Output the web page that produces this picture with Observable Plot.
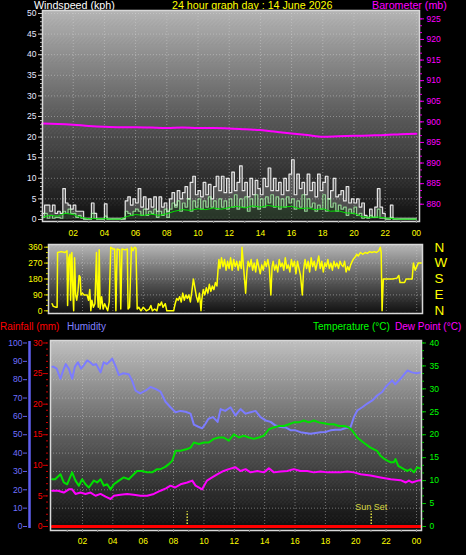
<!DOCTYPE html>
<html><head><meta charset="utf-8">
<script src="https://cdn.jsdelivr.net/npm/d3@7"></script>
<script src="https://cdn.jsdelivr.net/npm/@observablehq/plot@0.6"></script>
<style>
html,body{margin:0;padding:0;background:#000;}
#wrap{position:relative;width:466px;height:555px;background:#000;overflow:hidden;font-family:"Liberation Sans",Arial,sans-serif;}
.lbl{position:absolute;white-space:nowrap;font-size:10.7px;line-height:12px;}
.lb2{position:absolute;white-space:nowrap;font-size:10px;line-height:12px;}
.chart{position:absolute;left:0;}
</style></head><body>
<div id="wrap">
  <div class="lbl" style="left:34px;top:-1px;color:#ffffff">Windspeed (kph)</div>
  <div class="lbl" style="left:172px;top:-1px;color:#ffff00">24 hour graph day : 14 June 2026</div>
  <div class="lbl" style="left:372px;top:-1px;color:#ff00ff">Barometer (mb)</div>
  <div class="lb2" style="left:0px;top:321px;color:#ff0000">Rainfall (mm)</div>
  <div class="lb2" style="left:67px;top:321px;color:#8080ff">Humidity</div>
  <div class="lb2" style="left:313px;top:321px;color:#00ff00">Temperature (°C)</div>
  <div class="lb2" style="left:395px;top:321px;color:#ff00ff">Dew Point (°C)</div>
  <div id="c1" class="chart" style="top:0px"></div>
  <div id="c2" class="chart" style="top:240px"></div>
  <div id="c3" class="chart" style="top:335px"></div>
</div>
<script>
// ---------------- DATA ----------------
// time labels
const hourTicks = [2,4,6,8,10,12,14,16,18,20,22,24];
const hourMinor = [1,2,3,4,5,6,7,8,9,10,11,12,13,14,15,16,17,18,19,20,21,22,23,24];
// wind axis / barometer axis
const windTicks = [0,5,10,15,20,25,30,35,40,45,50];
const baroTicks = [880,885,890,895,900,905,910,915,920,925];
const BARO_BASE = 876.3;
// wind gust (kph), one value every 10 minutes from 00:00
const gustKph = [
 1.5,3.5,3.5,2,3.5,1.5,
 2,1.5,7.5,4,3.5,2.5,
 3.5,2,2,2,0.3,0.3,
 0.3,4,1.5,0.3,0.3,0.3,
 3.8,0.3,0.3,0.3,0.3,0.3,
 0.3,0.3,4.5,5.5,3.5,5,
 4,7.5,3,5.5,2.5,5,
 3,5.5,2,5.5,3,4,
 2,5,6.5,3.5,7,5,
 6.5,8,5,9,10.5,6,
 7,5.5,9,6,8.5,5,
 8,10.5,7,10.5,6.5,10,
 6.5,11.5,7,9,13,7,
 9,5.5,10,6,9.5,7.5,
 6,10,8,12.5,7,10,
 7,9,6,10,7,11,
 14.5,6,11,7.5,9,6,
 11,7,9,5.5,11,7,
 9,10.5,5,7,10,5.5,
 6,7,4.5,8,4,5,
 4,5,3,4,1,0.5,
 2.5,0.5,3,7.5,3,1.5,
 0.3,0.3,3.5,0.3,0.3,0.3,
 0.3,0.3,0.3,0.3,0.3,0.3,
 0.3];
// average wind (kph), every 10 minutes
const avgKph = [
 0.5,1.5,0.3,1,0.3,0.5,
 0.5,0.3,2,1.5,2.5,1.5,
 1.5,0.5,1,0.3,0,0,
 0,1.5,0.3,0,0,0,
 0.8,0,0,0,0,0,
 0,0,2,1.5,1,2,
 2.5,2,1,2.5,1,2,
 1.5,2.5,0.5,2,1,2.5,
 0.5,2.5,4,3,4.5,2,
 4,3,5,2,4.5,3,
 5,2.5,4.5,3,5.5,3,
 4.5,2.5,5,3,4.5,2.5,
 5,3,6,2.5,5,3,
 5.5,2,5,3,6,2.5,
 5,3,5.5,4,6,3,
 5.5,2.5,5,3,5.5,4,
 5,2.5,4.5,3,6,2,
 5,3,4,2,3.5,2.5,
 6,2,5,3,4,2,
 3.5,2.5,3,1,2.5,1.5,
 3,1,1.5,0.3,0.5,0.3,
 1,0.5,0.5,2.5,0.3,0.3,
 0,0,0.5,0,0,0,
 0,0,0,0,0,0,
 0];
// smoothed average wind (kph), every 30 minutes
const avgSmoothKph = [0.5,1.0,0.8,1.5,1.2,0.5,0.2,0.2,0.2,0.1,0.1,0.8,1.2,1.0,1.3,1.0,1.4,2.0,2.4,2.2,2.6,2.4,2.8,2.5,2.9,3.2,2.8,3.3,3.0,3.4,3.1,3.0,3.2,2.6,2.8,2.4,2.6,2.0,2.1,1.6,1.5,0.7,0.5,0.6,0.4,0.2,0.1,0.1,0.1];
// barometer (mb), hourly
const baroMb = [899.6,899.5,899.3,899.0,898.8,898.7,898.7,898.6,898.5,898.6,898.5,898.5,898.4,898.2,898.0,897.6,897.2,896.8,896.4,896.5,896.6,896.7,896.8,897.0,897.1];

// wind direction [hour, degrees]
const dirTicks = [0,90,180,270,360];
const dirLetters = ["N","E","S","W","N"];
const dirSamples = [[0.00,40],[0.08,25],[0.25,20],[0.33,20],[0.36,330],[0.6,335],[0.85,330],[0.98,340],[1.02,30],[1.1,300],[1.18,320],[1.22,60],[1.3,330],[1.38,80],[1.42,0],[1.48,300],[1.55,90],[1.62,60],[1.7,110],[1.78,200],[1.85,190],[1.9,90],[2.0,100],[2.1,90],[2.3,90],[2.4,60],[2.48,120],[2.55,0],[2.62,60],[2.72,20],[2.82,40],[2.92,330],[2.98,100],[3.04,20],[3.1,345],[3.16,10],[3.26,80],[3.36,10],[3.46,40],[3.56,20],[3.66,0],[3.76,50],[3.86,360],[4.0,350],[4.12,350],[4.2,0],[4.28,350],[4.45,345],[4.52,10],[4.6,350],[4.8,345],[4.95,350],[5.0,10],[5.1,20],[5.22,360],[5.32,340],[5.42,360],[5.52,355],[5.6,10],[5.7,20],[5.85,0],[6.0,20],[6.2,0],[6.4,10],[6.5,30],[6.6,0],[6.75,10],[6.9,0],[7.0,40],[7.1,30],[7.2,50],[7.3,20],[7.45,40],[7.55,0],[7.7,0],[8.0,0],[8.1,40],[8.2,70],[8.3,60],[8.4,80],[8.5,50],[8.6,100],[8.7,60],[8.8,90],[8.9,70],[9.0,90],[9.1,50],[9.2,110],[9.3,180],[9.4,130],[9.5,80],[9.6,50],[9.7,100],[9.8,0],[9.85,60],[9.95,120],[10.05,90],[10.15,130],[10.25,100],[10.35,150],[10.45,110],[10.55,140],[10.65,120],[10.75,160],[10.85,140],[10.92,230],[10.98,290],[11.05,240],[11.15,300],[11.25,250],[11.35,290],[11.45,230],[11.55,280],[11.65,240],[11.75,300],[11.85,230],[11.95,290],[12.05,250],[12.15,280],[12.25,230],[12.35,280],[12.45,240],[12.5,360],[12.6,250],[12.74,100],[12.82,220],[12.9,280],[13.0,250],[13.1,290],[13.2,230],[13.3,270],[13.4,220],[13.5,290],[13.6,250],[13.7,210],[13.8,260],[13.9,230],[14.0,280],[14.1,250],[14.2,290],[14.3,240],[14.4,90],[14.48,250],[14.55,280],[14.65,230],[14.75,260],[14.85,220],[14.95,290],[15.05,250],[15.15,270],[15.25,230],[15.35,300],[15.45,240],[15.55,260],[15.65,220],[15.75,290],[15.85,250],[15.95,280],[16.05,210],[16.15,280],[16.25,240],[16.35,200],[16.47,90],[16.55,230],[16.65,290],[16.75,240],[16.85,280],[16.95,220],[17.05,300],[17.15,250],[17.25,280],[17.35,230],[17.45,270],[17.55,310],[17.65,240],[17.75,280],[17.85,220],[17.95,270],[18.05,250],[18.15,290],[18.25,240],[18.35,270],[18.45,230],[18.55,280],[18.65,250],[18.75,270],[18.85,240],[18.95,280],[19.05,260],[19.15,250],[19.25,280],[19.35,220],[19.45,250],[19.55,230],[19.65,260],[19.75,280],[19.85,295],[19.95,305],[20.05,320],[20.15,310],[20.3,330],[20.45,320],[20.6,330],[20.75,325],[20.9,335],[21.05,330],[21.2,335],[21.35,330],[21.5,340],[21.6,360],[21.66,330],[21.72,0],[21.8,180],[22.0,180],[22.4,180],[22.7,185],[22.82,200],[22.9,160],[23.2,160],[23.3,180],[23.7,180],[23.78,270],[23.9,230],[24.0,250],[24.1,270],[24.3,270]];

// bottom panel axes
const humTicks = [0,10,20,30,40,50,60,70,80,90,100];
const rainTicks = [0,5,10,15,20,25,30];
const tempTicks = [0,5,10,15,20,25,30,35,40];
// humidity [hour, %]
const humSamples = [[0.0,87],[0.11,87],[0.3,86],[0.55,80.5],[0.75,85.5],[0.9,88.5],[1.1,86],[1.32,80.5],[1.5,87],[1.7,89.5],[1.9,86],[2.1,88],[2.31,90.5],[2.5,89.5],[2.7,88],[2.9,88.5],[3.19,84],[3.4,89.5],[3.6,88.5],[3.8,90],[3.96,91.5],[4.2,87],[4.4,82.5],[4.7,83.5],[5.05,83],[5.27,79.5],[5.5,74],[5.8,72.5],[6.15,74],[6.48,76],[6.81,75],[7.14,73.5],[7.47,68],[7.8,65],[8.13,62.3],[8.46,63],[8.79,62.5],[9.12,61.5],[9.34,55.5],[9.6,54.5],[9.88,53.5],[10.1,56],[10.3,58.7],[10.6,59.6],[10.9,57],[11.1,64],[11.4,63],[11.75,65],[12.08,60.5],[12.41,64],[12.74,61.5],[13.07,62.3],[13.4,63],[13.73,59.6],[14.06,57.8],[14.39,57],[14.72,55],[15.05,54.2],[15.38,54],[15.7,52.5],[16.03,52.4],[16.36,51.4],[16.69,51],[17.02,50.5],[17.35,51],[17.68,51.4],[18.0,51.5],[18.34,52.4],[18.67,52.7],[19.0,52.7],[19.33,53.6],[19.66,54.2],[19.88,59.6],[20.1,63.2],[20.43,65],[20.76,67],[21.09,68.7],[21.41,71.4],[21.74,73.3],[21.96,76],[22.2,78],[22.4,79.6],[22.6,77.5],[22.95,80.5],[23.2,83],[23.4,85],[23.7,84],[24.0,83.5],[24.3,84]];
// temperature [hour, °C]
const tempSamples = [[0.0,10.3],[0.2,10.3],[0.55,11.4],[0.77,9.6],[0.99,9.2],[1.32,11.8],[1.54,10],[1.76,8.9],[1.98,10.3],[2.2,9.2],[2.42,8.5],[2.75,10],[2.97,9.6],[3.19,10.3],[3.41,8.9],[3.63,9.2],[3.85,8.1],[4.07,9.2],[4.4,10],[4.72,10.7],[5.05,10.3],[5.38,11.4],[5.6,12.1],[5.93,12.1],[6.26,11.8],[6.59,11.8],[6.92,12.5],[7.14,12.5],[7.45,13],[7.69,13.6],[7.91,14.3],[8.13,16.5],[8.46,16.5],[8.9,16.9],[9.12,17.2],[9.34,18.3],[9.67,18],[10.0,18.3],[10.32,18.3],[10.65,19.1],[10.98,19.4],[11.3,19.4],[11.64,18.7],[11.97,20.1],[12.3,19.4],[12.63,19.8],[12.96,19.4],[13.29,19.1],[13.62,19.4],[13.95,19.8],[14.28,21.2],[14.61,21.6],[14.94,21.9],[15.27,21.9],[15.6,22.3],[15.93,22.7],[16.25,22.7],[16.58,23.1],[16.91,22.7],[17.24,23.1],[17.57,22.7],[17.9,22.5],[18.23,22.3],[18.56,22.3],[18.89,21.9],[19.22,21.9],[19.55,21.6],[19.77,20.9],[20.1,19.4],[20.5,18.3],[20.97,17.2],[21.4,16.5],[21.63,15.4],[21.85,14.8],[22.1,14.3],[22.3,14],[22.51,14],[22.62,14.7],[22.8,13.2],[23.17,12.5],[23.4,12.1],[23.61,12.5],[23.83,11.8],[24.05,12.9],[24.3,12.6]];
// dew point [hour, °C]
const dewSamples = [[0.0,7.8],[0.4,7.8],[0.77,7.4],[1.1,8.1],[1.32,8.1],[1.54,7.1],[1.87,7.4],[2.2,7.1],[2.53,7.4],[2.86,6.7],[3.19,7.1],[3.52,6.5],[3.85,6.0],[4.07,6.7],[4.5,6.9],[4.94,7.1],[5.38,6.9],[5.82,6.7],[6.26,6.7],[6.7,7.1],[7.14,7.8],[7.5,8.3],[7.8,8.9],[8.1,8.5],[8.46,9.2],[8.9,9.6],[9.23,10],[9.45,8.9],[9.88,8.1],[10.2,10],[10.54,10.7],[10.9,11.4],[11.3,12.1],[11.64,12.5],[12.08,12.9],[12.41,12.1],[12.74,12.5],[13.07,11.8],[13.51,12.1],[13.95,11.8],[14.28,12.7],[14.61,11.8],[15.05,12],[15.49,12.1],[15.92,12.5],[16.36,12.1],[16.8,12.1],[17.24,11.8],[17.68,12],[18.12,11.8],[18.56,11.8],[19.0,11.8],[19.44,12],[19.88,11.8],[20.32,11.4],[20.98,11.1],[21.63,10.7],[22.3,10.3],[22.95,10.1],[23.3,9.6],[23.5,10],[23.7,9.6],[24.1,10],[24.3,10.1]];
// rainfall [hour, mm]
const rainSamples = [[0.0,0],[24.3,0]];
// sun events
const sunEvents = [{h:8.9,label:""},{h:21.02,label:"Sun Set"}];

// ---------------- HELPERS ----------------
const FONT = "Liberation Sans, Arial, sans-serif";
function addDefs(svg, gradId, stops, texId) {
  const ns = "http://www.w3.org/2000/svg";
  const defs = document.createElementNS(ns, "defs");
  defs.innerHTML = `<linearGradient id="${gradId}" x1="0" y1="0" x2="0" y2="1">` +
    stops.map(([o,c]) => `<stop offset="${o}" stop-color="${c}"/>`).join("") + `</linearGradient>` +
    `<pattern id="${texId}" patternUnits="userSpaceOnUse" width="4" height="18">` +
    `<rect x="0" y="0" width="1" height="1" fill="#fff" fill-opacity="0.10"/>` +
    `<rect x="2" y="2" width="1" height="1" fill="#fff" fill-opacity="0.10"/>` +
    `<rect x="0" y="4" width="1" height="1" fill="#fff" fill-opacity="0.10"/>` +
    `<rect x="2" y="6" width="1" height="1" fill="#fff" fill-opacity="0.10"/>` +
    `<rect x="1" y="1" width="1" height="1" fill="#000" fill-opacity="0.08"/>` +
    `<rect x="3" y="3" width="1" height="1" fill="#000" fill-opacity="0.08"/>` +
    `<rect x="1" y="5" width="1" height="1" fill="#000" fill-opacity="0.08"/>` +
    `<rect x="3" y="7" width="1" height="1" fill="#000" fill-opacity="0.08"/>` +
    `</pattern>`;
  svg.insertBefore(defs, svg.firstChild);
}
const hourFmt = d => String(d % 24).padStart(2, "0");
const gridStyle = {stroke:"#d8d8d8", strokeOpacity:0.45, strokeDasharray:"1,2"};

// ---------------- TOP: WIND + BARO ----------------
const gust = gustKph.map((v,i) => ({h:i/6, v, a:avgKph[i]}));
const avg = avgKph.map((v,i) => ({h:i/6, v}));
const avgS = avgSmoothKph.map((v,i) => ({h:i/2, v}));
const baro = baroMb.map((v,i) => ({h:i, v: v - BARO_BASE}));
const windMinor = d3.range(0, 51, 1);
const baroMinor = d3.range(880, 926, 5/3).map(b => b - BARO_BASE);

const p1 = Plot.plot({
  width:466, height:242,
  marginLeft:42, marginRight:47, marginTop:10, marginBottom:21,
  style:{background:"transparent", color:"#fff", fontFamily:FONT, fontSize:"8px", overflow:"visible"},
  x:{domain:[0.03,24.2], label:null},
  y:{domain:[-0.49,50.73], label:null},
  marks:[
    Plot.frame({fill:"url(#bgTop)"}),
    Plot.frame({fill:"url(#texTop)"}),
    Plot.ruleY(windTicks.slice(1), {...gridStyle}),
    Plot.ruleX(hourTicks, {...gridStyle}),
    Plot.line(baro, {x:"h", y:"v", stroke:"#ff00ff", strokeWidth:2, curve:"monotone-x"}),
    Plot.areaY(gust, {x:"h", y1:"a", y2:"v", curve:"step-after", fill:"#ffffff", fillOpacity:0.22}),
    Plot.line(gust, {x:"h", y:"v", curve:"step-after", stroke:"#ffffff", strokeWidth:1.2, strokeOpacity:0.85}),
    Plot.areaY(avg, {x:"h", y:"v", curve:"step-after", fill:"#a0ffa0", fillOpacity:0.15}),
    Plot.line(avg, {x:"h", y:"v", curve:"step-after", stroke:"#b0ffb0", strokeWidth:1.2, strokeOpacity:0.75}),
    Plot.line(avgS, {x:"h", y:"v", stroke:"#00e000", strokeWidth:1}),
    Plot.frame({stroke:"#d8d8d8", strokeWidth:1.5}),
    Plot.axisY(windMinor, {anchor:"left", tickSize:2, tickFormat:() => "", stroke:"#c0c0c0", label:null}),
    Plot.axisY(windTicks, {anchor:"left", tickSize:4, tickPadding:2, fill:"#e8e8ff", stroke:"#c8c8c8", fontSize:8.5, label:null}),
    Plot.axisY(baroMinor, {anchor:"right", tickSize:2, tickFormat:() => "", stroke:"#e000e0", label:null}),
    Plot.axisY(baroTicks.map(b => b - BARO_BASE), {anchor:"right", tickSize:4, tickPadding:3, fill:"#ff00ff", stroke:"#e000e0", fontSize:8.5, label:null, tickFormat: d => Math.round(d + BARO_BASE)}),
    Plot.axisX(hourMinor, {anchor:"bottom", tickSize:2, tickFormat:() => "", stroke:"#808080", label:null}),
    Plot.axisX(hourTicks, {anchor:"bottom", tickSize:0, tickPadding:8, fill:"#ffff00", fontSize:8.5, tickFormat:hourFmt, label:null})
  ]
});
addDefs(p1, "bgTop", [[0,"#b4b4b4"],[0.5,"#5a5a5a"],[1,"#101010"]], "texTop");
document.getElementById("c1").appendChild(p1);

// ---------------- MIDDLE: DIRECTION ----------------
const dir = dirSamples.map(([h,d]) => ({h, d}));
const p2 = Plot.plot({
  width:466, height:80,
  marginLeft:48, marginRight:44, marginTop:4, marginBottom:7,
  style:{background:"transparent", color:"#fff", fontFamily:FONT, fontSize:"8px", overflow:"visible"},
  x:{domain:[-0.237,24.38], label:null, axis:null},
  y:{domain:[-15.3,375.3], label:null},
  marks:[
    Plot.frame({fill:"url(#bgDir)"}),
    Plot.frame({fill:"url(#texDir)"}),
    Plot.ruleY([90,180,270], {...gridStyle}),
    Plot.ruleX(hourTicks, {...gridStyle}),
    Plot.line(dir, {x:"h", y:"d", stroke:"#ffff00", strokeWidth:1.5}),
    Plot.frame({stroke:"#d8d8d8", strokeWidth:1.5}),
    Plot.axisY(d3.range(0,361,30), {anchor:"left", tickSize:2, tickFormat:() => "", stroke:"#c8c800", label:null}),
    Plot.axisY(dirTicks, {anchor:"left", tickSize:4, tickPadding:2, fill:"#ffff00", stroke:"#d0d000", fontSize:8.5, label:null}),
    Plot.axisY(dirTicks, {anchor:"right", tickSize:0, tickPadding:12, fill:"#ffff00", fontSize:13.5, label:null, tickFormat:(d) => dirLetters[dirTicks.indexOf(d)]})
  ]
});
addDefs(p2, "bgDir", [[0,"#b8b8b8"],[0.5,"#5c5c5c"],[1,"#101010"]], "texDir");
document.getElementById("c2").appendChild(p2);

// ---------------- BOTTOM: RAIN / HUMIDITY / TEMP / DEW ----------------
const T = 2.5;      // temperature °C -> humidity-units
const R = 10/3;     // rainfall mm -> humidity-units
const hum = humSamples.map(([h,v]) => ({h, v}));
const temp = tempSamples.map(([h,v]) => ({h, v: v*T}));
const dew = dewSamples.map(([h,v]) => ({h, v: v*T}));
const rain = rainSamples.map(([h,v]) => ({h, v: v*R}));
const p3 = Plot.plot({
  width:466, height:220,
  marginLeft:50, marginRight:45, marginTop:5, marginBottom:25,
  style:{background:"transparent", color:"#fff", fontFamily:FONT, fontSize:"8px", overflow:"visible"},
  x:{domain:[-0.105,24.33], label:null},
  y:{domain:[-2.18,101.36], label:null},
  marks:[
    Plot.frame({fill:"url(#bgBot)"}),
    Plot.frame({fill:"url(#texBot)"}),
    Plot.ruleY(humTicks.slice(1), {...gridStyle}),
    Plot.ruleX(hourTicks, {...gridStyle}),
    Plot.line(hum, {x:"h", y:"v", stroke:"#7c7cff", strokeWidth:2}),
    Plot.line(temp, {x:"h", y:"v", stroke:"#00e000", strokeWidth:2}),
    Plot.line(dew, {x:"h", y:"v", stroke:"#ff00ff", strokeWidth:2}),
    Plot.ruleX(sunEvents, {x:"h", y1:-0.5, y2:8, stroke:"#e0e040", strokeWidth:1.5, strokeDasharray:"1.5,1.5"}),
    Plot.text(sunEvents, {x:"h", y:10.6, text:"label", fill:"#d8d840", fontSize:9}),
    Plot.line(rain, {x:"h", y:"v", stroke:"#ff0000", strokeWidth:3}),
    Plot.frame({stroke:"#d8d8d8", strokeWidth:1.5}),
    Plot.axisY(humTicks, {anchor:"left", dx:-23, tickSize:4, tickPadding:1, fill:"#7070ff", stroke:"#6060f0", fontSize:8.5, label:null}),
    Plot.axisY(d3.range(0,31,1).map(r => r*R), {anchor:"left", dx:-2, tickSize:2, tickFormat:() => "", stroke:"#d00000", label:null}),
    Plot.axisY(rainTicks.map(r => r*R), {anchor:"left", dx:-3, tickSize:4, tickPadding:1, fill:"#ff0000", stroke:"#d00000", fontSize:8.5, label:null, tickFormat: d => Math.round(d/R)}),
    Plot.axisY(d3.range(0,40.01,5/3).map(t => t*T), {anchor:"right", tickSize:2, tickFormat:() => "", stroke:"#00c000", label:null}),
    Plot.axisY(tempTicks.map(t => t*T), {anchor:"right", tickSize:4, tickPadding:4, fill:"#00ff00", stroke:"#00c000", fontSize:8.5, label:null, tickFormat: d => Math.round(d/T)}),
    Plot.axisX(hourMinor, {anchor:"bottom", tickSize:2, tickFormat:() => "", stroke:"#808080", label:null}),
    Plot.axisX(hourTicks, {anchor:"bottom", tickSize:0, tickPadding:7, fill:"#ffff00", fontSize:8.5, tickFormat:hourFmt, label:null})
  ]
});
addDefs(p3, "bgBot", [[0,"#c0c0c0"],[0.5,"#5e5e5e"],[1,"#0c0c0c"]], "texBot");
// humidity axis line
{
  const ns = "http://www.w3.org/2000/svg";
  const ln = document.createElementNS(ns, "line");
  ln.setAttribute("x1", 29.5); ln.setAttribute("x2", 29.5);
  ln.setAttribute("y1", 6); ln.setAttribute("y2", 193);
  ln.setAttribute("stroke", "#6060f0"); ln.setAttribute("stroke-width", 2.5);
  p3.appendChild(ln);
}
document.getElementById("c3").appendChild(p3);
</script>
</body></html>
